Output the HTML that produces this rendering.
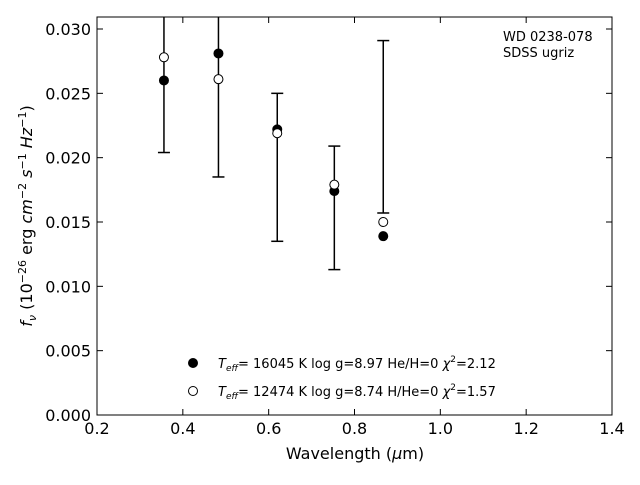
<!DOCTYPE html>
<html><head><meta charset="utf-8"><style>
body{margin:0;background:#fff;font-family:"Liberation Sans","DejaVu Sans",sans-serif}
svg text{font-family:"DejaVu Sans","Liberation Sans",sans-serif}
</style></head><body>
<svg id="c" width="640" height="480" xmlns="http://www.w3.org/2000/svg">
<defs><clipPath id="clip"><rect x="97" y="17" width="515" height="398"/></clipPath></defs>
<rect x="97" y="17" width="515" height="398" fill="none" stroke="#000" stroke-width="1"/>
<g id="ticks"></g>
<g id="marks" clip-path="url(#clip)"></g>
<text x="355" y="459" font-size="16" text-anchor="middle">Wavelength (<tspan font-style="italic">μ</tspan>m)</text>
<text transform="translate(32,216) rotate(-90)" font-size="16" text-anchor="middle"><tspan font-style="italic">f<tspan font-size="11" dy="4">ν</tspan></tspan><tspan dy="-4"> (10</tspan><tspan font-size="11" dy="-6">−26</tspan><tspan dy="6"> erg </tspan><tspan font-style="italic">cm</tspan><tspan font-size="11" dy="-6">−2</tspan><tspan dy="6" font-style="italic"> s</tspan><tspan font-size="11" dy="-6">−1</tspan><tspan dy="6" font-style="italic"> Hz</tspan><tspan font-size="11" dy="-6">−1</tspan><tspan dy="6">)</tspan></text>
<text x="503" y="41" font-size="13">WD 0238-078</text>
<text x="503" y="57" font-size="13">SDSS ugriz</text>
<g>
<circle cx="193" cy="363" r="4.5" fill="#000" stroke="#000"/>
<text x="218" y="368" font-size="13"><tspan font-style="italic">T<tspan font-size="9" dy="3">eff</tspan></tspan><tspan dy="-3">= 16045 K  log g=8.97  He/H=0  </tspan><tspan font-style="italic">χ</tspan><tspan font-size="9" dy="-6">2</tspan><tspan dy="6">=2.12</tspan></text>
<circle cx="193" cy="391" r="4.5" fill="#fff" stroke="#000"/>
<text x="218" y="396" font-size="13"><tspan font-style="italic">T<tspan font-size="9" dy="3">eff</tspan></tspan><tspan dy="-3">= 12474 K  log g=8.74  H/He=0  </tspan><tspan font-style="italic">χ</tspan><tspan font-size="9" dy="-6">2</tspan><tspan dy="6">=1.57</tspan></text>
</g>
</svg>
<script>
const wavelengths=[0.356,0.483,0.620,0.753,0.867];
const heModel=[0.0260,0.0281,0.0222,0.0174,0.0139];
const hModel=[0.0278,0.0261,0.0219,0.0179,0.0150];
const errLow=[0.0204,0.0185,0.0135,0.0113,0.0157];
const errHigh=[0.0352,0.0377,0.0250,0.0209,0.0291];
const xTicks=[0.2,0.4,0.6,0.8,1.0,1.2,1.4];
const yTicks=[0,0.005,0.010,0.015,0.020,0.025,0.030];
const NS="http://www.w3.org/2000/svg";
const X=v=>97+(v-0.2)/1.2*515;
const Y=v=>415-v/0.03*386;
function mk(t,a,p){const e=document.createElementNS(NS,t);for(const k in a)e.setAttribute(k,a[k]);p.appendChild(e);return e;}
const tg=document.getElementById('ticks'),mg=document.getElementById('marks');
xTicks.forEach(v=>{const x=X(v);
 const l=mk('line',{x1:x,x2:x,y1:415,y2:409,stroke:'#000'},tg);
 
 
 const l2=mk('line',{x1:x,x2:x,y1:17,y2:23,stroke:'#000'},tg);
 
 
 const t=mk('text',{x:x,y:434,'font-size':16,'text-anchor':'middle'},tg);t.textContent=v.toFixed(1);
 
 });
yTicks.forEach(v=>{const y=Y(v);
 const l=mk('line',{x1:97,x2:103,y1:y,y2:y,stroke:'#000'},tg);
 
 
 const l2=mk('line',{x1:606,x2:612,y1:y,y2:y,stroke:'#000'},tg);
 
 
 const t=mk('text',{x:91,y:y+6,'font-size':16,'text-anchor':'end'},tg);t.textContent=v.toFixed(3);
 
 });
wavelengths.forEach((w,i)=>{const x=X(w);
 const g=mk('g',{},mg);
 
 
 mk('line',{x1:x,x2:x,y1:Y(errHigh[i]),y2:Y(errLow[i]),stroke:'#000','stroke-width':1.5},g);
 mk('line',{x1:x-6,x2:x+6,y1:Y(errHigh[i]),y2:Y(errHigh[i]),stroke:'#000','stroke-width':1.5},g);
 mk('line',{x1:x-6,x2:x+6,y1:Y(errLow[i]),y2:Y(errLow[i]),stroke:'#000','stroke-width':1.5},g);});
wavelengths.forEach((w,i)=>{
 const c=mk('circle',{cx:X(w),cy:Y(heModel[i]),r:4.5,fill:'#000',stroke:'#000'},mg);
 
 
 const o=mk('circle',{cx:X(w),cy:Y(hModel[i]),r:4.5,fill:'#fff',stroke:'#000'},mg);
 
 });
</script>
</body></html>
